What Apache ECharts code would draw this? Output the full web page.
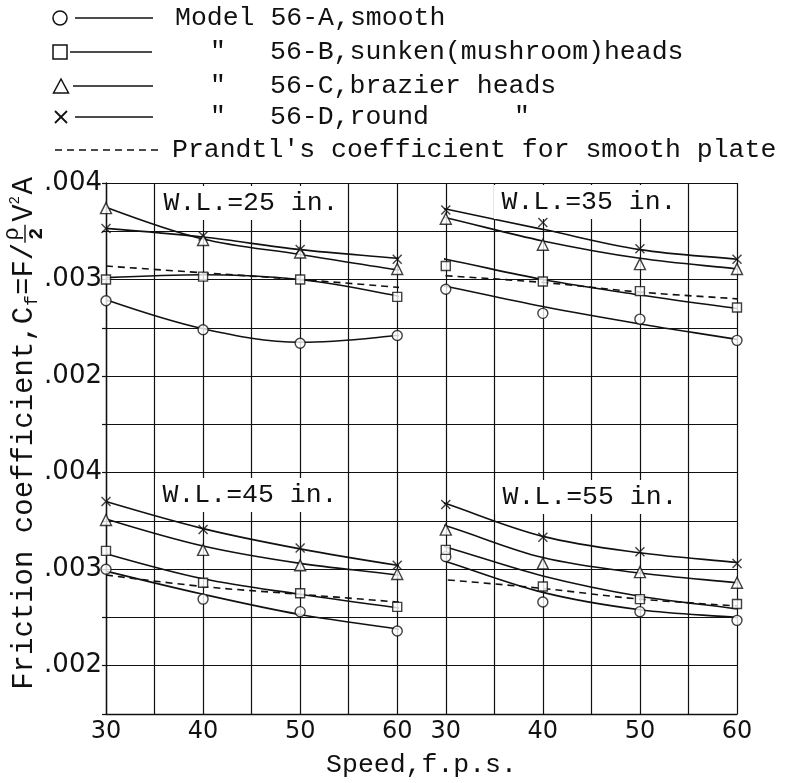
<!DOCTYPE html>
<html><head><meta charset="utf-8">
<script src="https://cdn.jsdelivr.net/npm/echarts@6/dist/echarts.min.js"></script>
<style>html,body{margin:0;padding:0;background:#fff}#c{width:801px;height:783px}</style>
</head><body><div id="c"></div>
<script>
// ---------- data ----------
const speeds = [30, 40, 50, 60];
const xTickLabels = ['30', '40', '50', '60'];
const yTickLabels = ['.002', '.003', '.004'];
const panelTitles = ['W.L.=25 in.', 'W.L.=35 in.', 'W.L.=45 in.', 'W.L.=55 in.'];
const modelNames = ['Model 56-A,smooth', '56-B,sunken(mushroom)heads', '56-C,brazier heads', '56-D,round'];
const prandtlName = "Prandtl's coefficient for smooth plate";

// measured points (A smooth, B sunken, C brazier, D round)
const wl25A = [0.00278, 0.00248, 0.00234, 0.00242];
const wl25B = [0.00300, 0.00303, 0.00300, 0.00282];
const wl25C = [0.00374, 0.00341, 0.00328, 0.00311];
const wl25D = [0.00353, 0.00345, 0.00331, 0.00321];
const wl35A = [0.00290, 0.00265, 0.00259, 0.00237];
const wl35B = [0.00314, 0.00298, 0.00288, 0.00271];
const wl35C = [0.00363, 0.00336, 0.00316, 0.00311];
const wl35D = [0.00372, 0.00359, 0.00332, 0.00321];
const wl45A = [0.00300, 0.00269, 0.00256, 0.00236];
const wl45B = [0.00319, 0.00286, 0.00275, 0.00261];
const wl45C = [0.00351, 0.00320, 0.00304, 0.00295];
const wl45D = [0.00370, 0.00341, 0.00322, 0.00304];
const wl55A = [0.00313, 0.00266, 0.00256, 0.00247];
const wl55B = [0.00320, 0.00282, 0.00269, 0.00264];
const wl55C = [0.00341, 0.00306, 0.00297, 0.00286];
const wl55D = [0.00367, 0.00333, 0.00318, 0.00306];

// faired curves
const fair25X = [30, 40, 50, 60, 62];
const fair25A = [0.00279, 0.00249, 0.00235, 0.00242, 0.00246];
const fair25B = [0.00302, 0.00305, 0.00300, 0.00283, 0.00277];
const fair25C = [0.00375, 0.00342, 0.00326, 0.00310, 0.00308];
const fair25D = [0.00353, 0.00344, 0.00331, 0.00322, 0.00320];
const prandtl25X = [30, 40, 50, 60, 62];
const prandtl25 = [0.00314, 0.00307, 0.00300, 0.00292, 0.00290];

const fair35X = [27.5, 30, 40, 50, 60, 61];
const fair35A = [0.00298, 0.00293, 0.00272, 0.00254, 0.00238, 0.00236];
const fair35B = [0.00325, 0.00321, 0.00300, 0.00284, 0.00270, 0.00269];
const fair35C = [0.00369, 0.00364, 0.00340, 0.00322, 0.00311, 0.00310];
const fair35D = [0.00379, 0.00373, 0.00352, 0.00331, 0.00321, 0.00320];
const prandtl35X = [27.5, 30, 40, 50, 60, 61];
const prandtl35 = [0.00306, 0.00304, 0.00297, 0.00287, 0.00280, 0.00279];

const fair45X = [30, 40, 50, 60, 62];
const fair45A = [0.00298, 0.00274, 0.00253, 0.00238, 0.00234];
const fair45B = [0.00316, 0.00290, 0.00274, 0.00260, 0.00258];
const fair45C = [0.00352, 0.00324, 0.00306, 0.00294, 0.00290];
const fair45D = [0.00370, 0.00342, 0.00321, 0.00304, 0.00302];
const prandtl45X = [30, 40, 50, 60, 62];
const prandtl45 = [0.00294, 0.00282, 0.00274, 0.00266, 0.00264];

const fair55X = [28, 30, 40, 50, 60, 61];
const fair55A = [0.00314, 0.00308, 0.00276, 0.00258, 0.00250, 0.00249];
const fair55B = [0.00328, 0.00323, 0.00293, 0.00272, 0.00259, 0.00257];
const fair55C = [0.00349, 0.00345, 0.00312, 0.00296, 0.00286, 0.00285];
const fair55D = [0.00375, 0.00368, 0.00334, 0.00317, 0.00307, 0.00306];
const prandtl55X = [26.5, 30, 40, 50, 60];
const prandtl55 = [0.00291, 0.00289, 0.00280, 0.00269, 0.00262];

// ---------- layout ----------
const INK = '#111';
const MONO = '"Liberation Mono","DejaVu Sans Mono",monospace';
const SANS = '"DejaVu Sans",sans-serif';
const L = 106, T = 183, W = 631, H = 531;
const cw = W / 13, ch = H / 11;
const panelPos = [[L, T], [L + 7 * cw, T], [L, T + 6 * ch], [L + 7 * cw, T + 6 * ch]];

const panels = [
  {fx: fair25X, curves: [fair25A, fair25B, fair25C, fair25D], px: prandtl25X, p: prandtl25, pts: [wl25A, wl25B, wl25C, wl25D]},
  {fx: fair35X, curves: [fair35A, fair35B, fair35C, fair35D], px: prandtl35X, p: prandtl35, pts: [wl35A, wl35B, wl35C, wl35D]},
  {fx: fair45X, curves: [fair45A, fair45B, fair45C, fair45D], px: prandtl45X, p: prandtl45, pts: [wl45A, wl45B, wl45C, wl45D]},
  {fx: fair55X, curves: [fair55A, fair55B, fair55C, fair55D], px: prandtl55X, p: prandtl55, pts: [wl55A, wl55B, wl55C, wl55D]}
];
const markerSymbols = ['circle', 'rect', 'triangle', 'path://M0,1L1,0L5,4L9,0L10,1L6,5L10,9L9,10L5,6L1,10L0,9L4,5Z'];
const markerSizes = [10, 9, 11, 10];
const pairs = (xs, ys) => xs.map((x, i) => [x, ys[i]]);

const grids = [{left: L, top: T, width: W, height: H}];
const xAxes = [{
  gridIndex: 0, type: 'value', min: 0, max: 13, interval: 1,
  axisLine: {show: true, lineStyle: {color: INK, width: 1.4}},
  axisTick: {show: false}, axisLabel: {show: false},
  splitLine: {show: true, lineStyle: {color: INK, width: 1.2}}
}];
const yAxes = [{
  gridIndex: 0, type: 'value', min: 0, max: 11, interval: 1,
  axisLine: {show: true, lineStyle: {color: INK, width: 1.4}},
  axisTick: {show: true, length: 4, lineStyle: {color: INK, width: 1.2}}, axisLabel: {show: false},
  splitLine: {show: true, lineStyle: {color: INK, width: 1.2}}
}];
const series = [];

panels.forEach((pn, i) => {
  const [gl, gt] = panelPos[i];
  grids.push({left: gl, top: gt, width: 6 * cw, height: 5 * ch});
  xAxes.push({
    gridIndex: i + 1, type: 'value', min: 30, max: 60, interval: 10,
    axisLine: {show: false}, axisTick: {show: false}, splitLine: {show: false},
    axisLabel: {show: i >= 2, fontSize: 24, fontFamily: SANS, color: INK, margin: 6,
      formatter: v => xTickLabels[speeds.indexOf(Math.round(v))] || ''}
  });
  yAxes.push({
    gridIndex: i + 1, type: 'value', min: 0.0015, max: 0.004, interval: 0.0005,
    axisLine: {show: false}, axisTick: {show: false}, splitLine: {show: false},
    axisLabel: {show: i % 2 === 0, fontSize: 26, fontFamily: SANS, color: INK, margin: 4,
      formatter: v => yTickLabels.find(t => Math.abs(parseFloat(t) - v) < 1e-7) || ''}
  });
  pn.curves.forEach((c, k) => {
    series.push({
      type: 'line', name: modelNames[k], xAxisIndex: i + 1, yAxisIndex: i + 1,
      data: pairs(pn.fx, c), smooth: 0.35, symbol: 'none', clip: false, silent: true, z: 3,
      lineStyle: {color: INK, width: 1.6}
    });
  });
  series.push({
    type: 'line', name: prandtlName, xAxisIndex: i + 1, yAxisIndex: i + 1,
    data: pairs(pn.px, pn.p), smooth: 0.35, symbol: 'none', clip: false, silent: true, z: 3,
    lineStyle: {color: INK, width: 1.6, type: [7, 5]}
  });
  pn.pts.forEach((p, k) => {
    series.push({
      type: 'scatter', name: modelNames[k], xAxisIndex: i + 1, yAxisIndex: i + 1,
      data: pairs(speeds, p), symbol: markerSymbols[k], symbolSize: markerSizes[k], clip: false, silent: true, z: 120,
      itemStyle: k === 3 ? {color: INK, borderWidth: 0} : {color: '#fff', borderColor: INK, borderWidth: 1.4}
    });
  });
});

// ---------- graphics: legend, panel labels, titles ----------
const g = [];
const txt = (x, y, text, size, extra) => Object.assign({
  type: 'text', x, y, z: 110,
  style: Object.assign({text, fontSize: size, fontFamily: MONO, fill: INK, textAlign: 'left', verticalAlign: 'middle', textVerticalAlign: 'middle'}, extra || {})
});
const stroke = {stroke: INK, lineWidth: 1.5, fill: '#fff'};
const rowsY = [18, 52, 86, 117, 150];
const LF = 26.5;
// row symbols
g.push({type: 'circle', shape: {cx: 60, cy: rowsY[0], r: 7}, style: stroke, z: 110});
g.push({type: 'rect', shape: {x: 53, y: rowsY[1] - 7, width: 14, height: 14}, style: stroke, z: 110});
g.push({type: 'polygon', shape: {points: [[61, rowsY[2] - 7], [53.5, rowsY[2] + 7], [68.5, rowsY[2] + 7]]}, style: stroke, z: 110});
g.push({type: 'line', shape: {x1: 55, y1: rowsY[3] - 6, x2: 67, y2: rowsY[3] + 6}, style: {stroke: INK, lineWidth: 1.8}, z: 110});
g.push({type: 'line', shape: {x1: 67, y1: rowsY[3] - 6, x2: 55, y2: rowsY[3] + 6}, style: {stroke: INK, lineWidth: 1.8}, z: 110});
[[75, 153], [70, 152], [73, 153], [75, 153]].forEach((s, k) => {
  g.push({type: 'line', shape: {x1: s[0], y1: rowsY[k], x2: s[1], y2: rowsY[k]}, style: {stroke: INK, lineWidth: 1.6}, z: 110});
});
g.push({type: 'line', shape: {x1: 55, y1: rowsY[4], x2: 160, y2: rowsY[4]}, style: {stroke: INK, lineWidth: 1.6, lineDash: [7, 5]}, z: 110});
g.push(txt(175, rowsY[0], modelNames[0], LF));
for (let k = 1; k < 4; k++) {
  g.push(txt(218, rowsY[k], '"', LF, {textAlign: 'center'}));
  g.push(txt(270, rowsY[k], modelNames[k], LF));
}
g.push(txt(522, rowsY[3], '"', LF, {textAlign: 'center'}));
g.push(txt(172, rowsY[4], prandtlName, LF));

// panel labels with white boxes
const labelPos = [[251, 203], [589, 202], [250, 495], [590, 497]];
panelTitles.forEach((t, i) => {
  const [x, y] = labelPos[i];
  g.push({type: 'rect', shape: {x: x - 95, y: y - 17, width: 190, height: 34}, style: {fill: '#fff'}, z: 100});
  g.push(txt(x, y, t, LF, {textAlign: 'center'}));
});

// x title
g.push(txt(L + W / 2, 765, 'Speed,f.p.s.', LF, {textAlign: 'center'}));

// y title (rotated group)
const YF = 29;
const cwm = YF * 0.6;
const x1 = 22 * cwm;
const x2 = x1 + 12;
const x3 = x2 + 3 * cwm;
const x4 = x3 + 21;
const yEnd = x4 + cwm * 2 + 10;
g.push({
  type: 'group', x: 24, y: 177 + yEnd, rotation: Math.PI / 2, z: 110,
  children: [
    txt(0, 0, 'Friction coefficient,C', YF),
    txt(x1 + 1, 8, 'f', 18),
    txt(x2, 0, '=F/', YF),
    txt(x3 + 9, -12, 'ρ', 22, {textAlign: 'center'}),
    {type: 'line', shape: {x1: x3, y1: 1, x2: x3 + 18, y2: 1}, style: {stroke: INK, lineWidth: 1.4}, z: 110},
    txt(x3 + 9, 13, '2', 20, {textAlign: 'center', fontWeight: 'bold'}),
    txt(x4, 0, 'V', YF),
    txt(x4 + cwm, -9, '2', 14),
    txt(x4 + cwm + 10, 0, 'A', YF)
  ]
});

const chart = echarts.init(document.getElementById('c'), null, {renderer: 'canvas'});
chart.setOption({
  animation: false,
  backgroundColor: '#fff',
  grid: grids, xAxis: xAxes, yAxis: yAxes, series,
  graphic: {elements: g}
});
</script></body></html>
